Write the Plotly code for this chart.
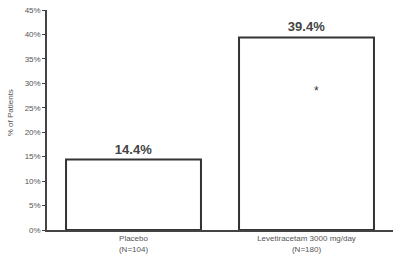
import plotly.graph_objects as go

categories = ["Placebo<br>(N=104)", "Levetiracetam 3000 mg/day<br>(N=180)"]
values = [14.4, 39.4]
value_labels = ["14.4%", "39.4%"]
y_ticks = [0, 5, 10, 15, 20, 25, 30, 35, 40, 45]
star_pos = (1.06, 28.5)

fig = go.Figure()
fig.add_trace(go.Bar(
    x=[0, 1], y=values, width=0.78,
    marker=dict(color="white", line=dict(color="#333333", width=2)),
    text=[f"<b>{t}</b>" for t in value_labels],
    textposition="outside",
    textfont=dict(size=13, color="#444444", family="Liberation Sans"),
    cliponaxis=False,
))
fig.add_annotation(x=star_pos[0], y=star_pos[1], text="*", showarrow=False,
                   font=dict(size=12, color="#333333", family="Liberation Sans"))
fig.add_annotation(xref="paper", yref="paper", x=-0.107, y=0.535,
                   text="% of Patients", textangle=-90, showarrow=False,
                   xanchor="center", yanchor="middle",
                   font=dict(size=8, color="#555555", family="Liberation Sans"))

fig.update_layout(
    width=400, height=260,
    margin=dict(l=47, r=7, t=6, b=29),
    paper_bgcolor="white", plot_bgcolor="white",
    showlegend=False,
    font=dict(family="Liberation Sans", size=8, color="#555555"),
)
fig.update_xaxes(
    range=[-0.5, 1.5], tickmode="array", tickvals=[0, 1], ticktext=categories,
    showline=True, linecolor="#444444", linewidth=1.5, ticks="",
    showgrid=False, zeroline=False, tickfont=dict(size=8, color="#555555"),
)
fig.update_yaxes(
    range=[0, 45], tickmode="array", tickvals=y_ticks,
    ticktext=[f"{v}%" for v in y_ticks],
    showline=True, linecolor="#444444", linewidth=1.5,
    ticks="outside", ticklen=3, tickcolor="#444444", tickwidth=1,
    showgrid=False, zeroline=False, tickfont=dict(size=8, color="#555555"),
)
fig.write_html("out.html")
